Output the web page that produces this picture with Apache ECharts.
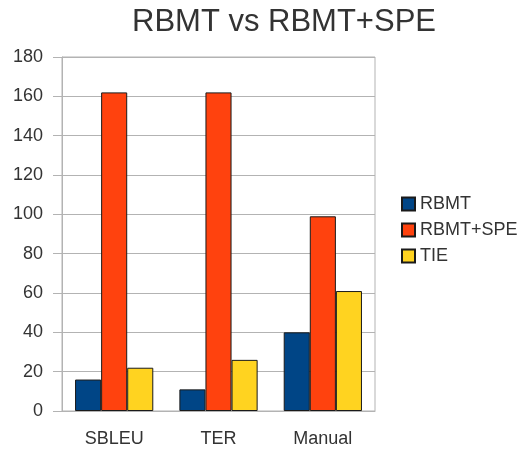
<!DOCTYPE html>
<html>
<head>
<meta charset="utf-8">
<script src="https://cdn.jsdelivr.net/npm/echarts@6/dist/echarts.min.js"></script>
<style>
  html, body { margin: 0; padding: 0; background: #fff; }
  #main { width: 524px; height: 450px; }
</style>
</head>
<body>
<div id="main"></div>
<script>
  var categories = ['SBLEU', 'TER', 'Manual']
  var rbmt = [16, 11, 40]
  var rbmtSpe = [162, 162, 99]
  var tie = [22, 26, 61]
  var yTicks = [0, 20, 40, 60, 80, 100, 120, 140, 160, 180]

  var myChart = echarts.init(document.getElementById('main'))
  var barBorder = { borderColor: '#1a1a1a', borderWidth: 1 }
  var option = {
    backgroundColor: '#fff',
    textStyle: { fontFamily: 'Liberation Sans' },
    title: {
      text: 'RBMT vs RBMT+SPE',
      left: 127,
      top: 2,
      textStyle: { fontSize: 31, fontWeight: 'normal', color: '#333' }
    },
    legend: {
      orient: 'vertical',
      left: 396,
      top: 190,
      itemWidth: 13,
      itemHeight: 13,
      itemGap: 8,
      icon: 'rect',
      textStyle: { fontSize: 18, color: '#333' },
      data: ['RBMT', 'RBMT+SPE', 'TIE']
    },
    grid: {
      left: 62, right: 149, top: 57, bottom: 39,
      show: true, borderColor: '#b3b3b3', borderWidth: 1
    },
    xAxis: {
      type: 'category',
      data: categories,
      axisLine: { lineStyle: { color: '#b3b3b3' } },
      axisTick: { show: false },
      axisLabel: { fontSize: 18, color: '#333', margin: 19 },
      splitLine: { show: false }
    },
    yAxis: {
      type: 'value',
      min: yTicks[0],
      max: yTicks[yTicks.length - 1],
      interval: 20,
      axisLine: { show: true, lineStyle: { color: '#b3b3b3' } },
      axisTick: { show: true, length: 9, lineStyle: { color: '#b3b3b3' } },
      axisLabel: { fontSize: 18, color: '#333', margin: 19 },
      splitLine: { lineStyle: { color: '#b3b3b3' } }
    },
    series: [{
      name: 'RBMT',
      type: 'bar',
      data: rbmt,
      barGap: '0%',
      barCategoryGap: '25%',
      itemStyle: Object.assign({ color: '#004586' }, barBorder)
    }, {
      name: 'RBMT+SPE',
      type: 'bar',
      data: rbmtSpe,
      itemStyle: Object.assign({ color: '#ff420e' }, barBorder)
    }, {
      name: 'TIE',
      type: 'bar',
      data: tie,
      itemStyle: Object.assign({ color: '#ffd320' }, barBorder)
    }]
  }
  myChart.setOption(option)
</script>
</body>
</html>
